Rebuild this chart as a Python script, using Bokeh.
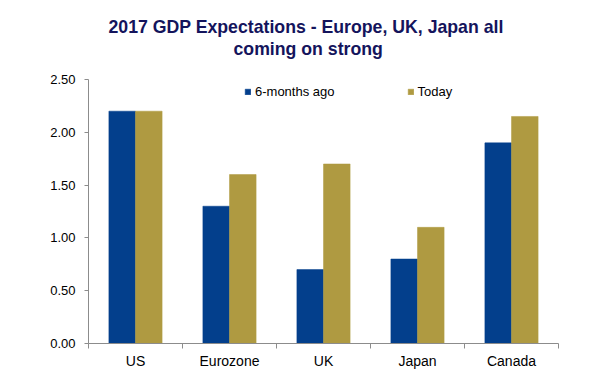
from bokeh.plotting import figure
from bokeh.models import (FactorRange, Range1d, LinearAxis, FixedTicker, Title,
                          Legend, LegendItem, ColumnDataSource, NumeralTickFormatter, Grid)
from bokeh.transform import dodge
from bokeh.embed import file_html
from bokeh.resources import INLINE

# ---- data ----
categories = ["US", "Eurozone", "UK", "Japan", "Canada"]
six_months_ago = [2.2, 1.3, 0.7, 0.8, 1.9]
today = [2.2, 1.6, 1.7, 1.1, 2.15]
series_names = ["6-months ago", "Today"]
y_ticks = [0.0, 0.5, 1.0, 1.5, 2.0, 2.5]
title_lines = ["2017 GDP Expectations - Europe, UK, Japan all", "coming on strong"]

# ---- styles ----
BLUE = "#033f8c"
GOLD = "#af9a41"
NAVY = "#14145c"
AXIS_GRAY = "#8c8c8c"
FONT = "Liberation Sans"

source = ColumnDataSource(dict(cat=categories, ago=six_months_ago, today=today))

p = figure(width=581, height=371,
           x_range=FactorRange(*categories), y_range=Range1d(0, 2.5),
           output_backend="svg", toolbar_location=None, title=None,
           x_axis_location=None, y_axis_location=None,
           min_border_left=88, min_border_right=23,
           min_border_top=79, min_border_bottom=28)
p.outline_line_color = None
p.center = [r for r in p.center if not isinstance(r, Grid)]

bw = 0.283
r1 = p.vbar(x=dodge("cat", -bw / 2, range=p.x_range), top="ago", width=bw, source=source,
            fill_color=BLUE, line_color=BLUE, line_width=0.5)
r2 = p.vbar(x=dodge("cat", bw / 2, range=p.x_range), top="today", width=bw, source=source,
            fill_color=GOLD, line_color=GOLD, line_width=0.5)

# y axis
yaxis = LinearAxis(ticker=FixedTicker(ticks=y_ticks),
                   formatter=NumeralTickFormatter(format="0.00"))
yaxis.axis_line_color = AXIS_GRAY
yaxis.major_tick_line_color = AXIS_GRAY
yaxis.major_tick_out = 4
yaxis.major_tick_in = 0
yaxis.minor_tick_line_color = None
yaxis.major_label_standoff = 9
yaxis.major_label_text_font = FONT
yaxis.major_label_text_font_size = "13px"
yaxis.major_label_text_color = "#000000"
p.add_layout(yaxis, "left")

# x axis on the factor range's synthetic coordinates:
# labels at category centres, small ticks at category boundaries
n = len(categories)
centres = [i + 0.5 for i in range(n)]
xaxis = LinearAxis(ticker=FixedTicker(ticks=centres, minor_ticks=list(range(n + 1))))
xaxis.major_label_overrides = {c: name for c, name in zip(centres, categories)}
xaxis.axis_line_color = AXIS_GRAY
xaxis.major_tick_line_color = None
xaxis.major_tick_out = 0
xaxis.major_tick_in = 0
xaxis.minor_tick_line_color = AXIS_GRAY
xaxis.minor_tick_out = 5
xaxis.minor_tick_in = 0
xaxis.major_label_standoff = 4
xaxis.major_label_text_font = FONT
xaxis.major_label_text_font_size = "14px"
xaxis.major_label_text_color = "#000000"
p.add_layout(xaxis, "below")

# two-line title: one Title per line, each placed by its left offset
# (the title nearest the frame is added first; the trailing newline lifts it)
p.add_layout(Title(text=title_lines[1] + "\n", align="left", offset=145,
                   vertical_align="bottom", text_font=FONT, text_font_size="17.7px",
                   text_font_style="bold", text_line_height=1.05,
                   text_color=NAVY, standoff=0), "above")
p.add_layout(Title(text=title_lines[0], align="left", offset=20,
                   vertical_align="bottom", text_font=FONT, text_font_size="17.7px",
                   text_font_style="bold", text_line_height=1.05,
                   text_color=NAVY, standoff=0), "above")

legend = Legend(items=[LegendItem(label=series_names[0], renderers=[r1]),
                       LegendItem(label=series_names[1], renderers=[r2])],
                orientation="horizontal", location=(156, 242),
                glyph_width=7, glyph_height=7, label_standoff=4, spacing=72,
                padding=0, margin=0, border_line_color=None,
                background_fill_alpha=0, label_text_font=FONT,
                label_text_font_size="13px", label_height=20,
                label_text_color="#000000")
p.add_layout(legend)

open("out.html", "w").write(file_html(p, INLINE))
